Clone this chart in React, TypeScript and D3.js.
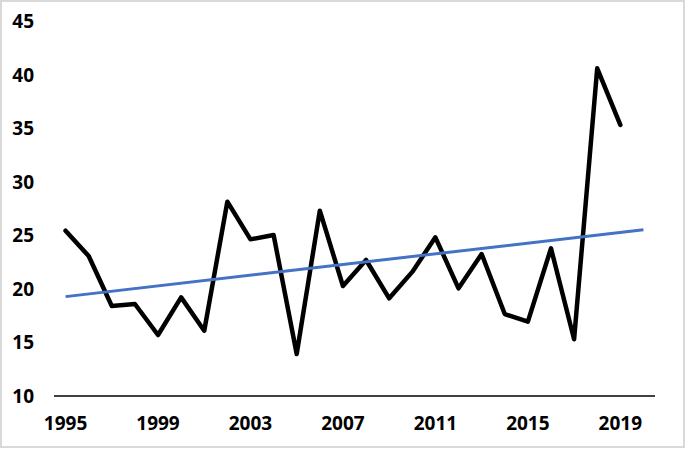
import { useEffect, useRef } from 'react';
import * as d3 from 'd3';

// categories (2020 is an empty slot the trendline runs into)
const years = d3.range(1995, 2021);
const values = [
  25.45, 23.08, 18.41, 18.6, 15.7, 19.22, 16.1, 28.16, 24.64, 25.05, 13.93, 27.32, 20.28,
  22.71, 19.13, 21.6, 24.83, 20.06, 23.27, 17.66, 16.95, 23.8, 15.3, 40.62, 35.33,
];
const yTicks = [10, 15, 20, 25, 30, 35, 40, 45];
const xTickLabels = [1995, 1999, 2003, 2007, 2011, 2015, 2019];

function App() {
  const svgRef = useRef<SVGSVGElement>(null);

  useEffect(() => {
    const width = 685;
    const height = 449;
    const margin = { top: 21.5, right: 30, bottom: 53, left: 54 };

    d3.select(svgRef.current).selectAll('*').remove();

    const svg = d3
      .select(svgRef.current)
      .attr('width', width)
      .attr('height', height)
      .style('position', 'absolute')
      .style('left', 0)
      .style('top', 0)
      .style('font-family', '"Open Sans", sans-serif');

    svg
      .append('rect')
      .attr('x', 1)
      .attr('y', 1)
      .attr('width', width - 2)
      .attr('height', height - 3)
      .attr('fill', '#fff')
      .attr('stroke', '#d9d9d9')
      .attr('stroke-width', 2);

    const x = d3
      .scaleBand<number>()
      .domain(years)
      .range([margin.left, width - margin.right])
      .padding(0);

    const y = d3
      .scaleLinear()
      .domain([10, 45])
      .range([height - margin.bottom, margin.top]);

    const cx = (yr: number) => (x(yr) ?? 0) + x.bandwidth() / 2;

    // y labels (no gridlines in the original)
    svg
      .append('g')
      .selectAll('text')
      .data(yTicks)
      .enter()
      .append('text')
      .attr('x', 34)
      .attr('y', (d) => y(d))
      .attr('dy', '0.35em')
      .attr('text-anchor', 'end')
      .style('font-size', '19px')
      .style('font-weight', 'bold')
      .style('fill', '#000')
      .text((d) => d);

    // x axis line
    svg
      .append('line')
      .attr('x1', margin.left)
      .attr('x2', width - margin.right)
      .attr('y1', y(10))
      .attr('y2', y(10))
      .attr('stroke', '#000')
      .attr('stroke-width', 1.5);

    svg
      .append('g')
      .selectAll('text')
      .data(xTickLabels)
      .enter()
      .append('text')
      .attr('x', (d) => cx(d))
      .attr('y', y(10) + 27)
      .attr('dy', '0.35em')
      .attr('text-anchor', 'middle')
      .style('font-size', '19px')
      .style('font-weight', 'bold')
      .style('fill', '#000')
      .text((d) => d);

    const series = values.map((v, i) => ({ year: years[i], value: v }));

    // linear trendline (least squares), forecast one period forward
    const n = values.length;
    const meanI = (n - 1) / 2;
    const meanV = d3.mean(values) ?? 0;
    const slope =
      d3.sum(values, (v, i) => (i - meanI) * (v - meanV)) /
      d3.sum(values, (_, i) => (i - meanI) ** 2);
    const trend = [0, n].map((i) => ({ year: years[i], value: meanV + slope * (i - meanI) }));

    const line = d3
      .line<{ year: number; value: number }>()
      .x((d) => cx(d.year))
      .y((d) => y(d.value));

    svg
      .append('path')
      .datum(series)
      .attr('d', line)
      .attr('fill', 'none')
      .attr('stroke', '#000')
      .attr('stroke-width', 4.5)
      .attr('stroke-linejoin', 'round')
      .attr('stroke-linecap', 'round');

    svg
      .append('path')
      .datum(trend)
      .attr('d', line)
      .attr('fill', 'none')
      .attr('stroke', '#4472C4')
      .attr('stroke-width', 3);
  }, []);

  return <svg ref={svgRef}></svg>;
}

export default App;
